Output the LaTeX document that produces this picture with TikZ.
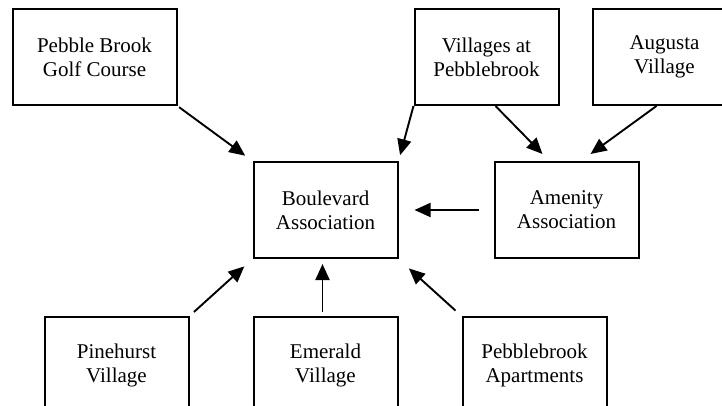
\documentclass[tikz,border=0pt]{standalone}
\usepackage{fontspec}
\setmainfont{Liberation Serif}
\usetikzlibrary{
  arrows.meta,
  positioning
}

\begin{document}
\begin{tikzpicture}[
  x=1pt, y=1pt,
  node distance=1em,
  org/.style={
    rectangle,
    draw,
    line width=2pt,
    align=center,
    minimum width=144pt,
    minimum height=96pt,
    font=\fontsize{21}{24}\selectfont
  },
  feed/.style={
    -{Triangle[length=16pt,width=14pt]},
    line width=1.9pt
  }
]
\useasboundingbox (0,0) rectangle (722,-406);

\node[org] (boulevard) at (325.5,-210) {Boulevard\\Association};
\node[org, right=95pt of boulevard] (amenity) {Amenity\\Association};
\node[org, above right=55pt and 15pt of boulevard] (villages) {Villages at\\Pebblebrook};
\node[org, right=32pt of villages] (augusta) {Augusta\\Village};
\node[org, minimum width=164pt, left=236pt of villages] (golf) {Pebble Brook\\Golf Course};
\node[org, below=57pt of boulevard] (emerald) {Emerald\\Village};
\node[org, left=63pt of emerald] (pinehurst) {Pinehurst\\Village};
\node[org, right=63pt of emerald] (apartments) {Pebblebrook\\Apartments};

% arrows into the two associations
\draw[feed, shorten <=2pt, shorten >=9pt] (golf.south east) -- (boulevard.north west);
\draw[feed, shorten >=6pt] (villages.south west) -- (boulevard.north east);
\draw[feed] ([xshift=9pt]villages.south) -- ([xshift=-24pt,yshift=7pt]amenity.north);
\draw[feed] ([xshift=-8pt]augusta.south) -- ([xshift=24pt,yshift=7pt]amenity.north);
\draw[feed, shorten <=15pt, shorten >=16pt] (amenity.west) -- (boulevard.east);
\draw[feed, shorten <=6pt, shorten >=11pt] (pinehurst.north east) -- (boulevard.south west);
\draw[feed] ([xshift=-3pt,yshift=4pt]emerald.north) -- ([xshift=-3pt,yshift=-5pt]boulevard.south);
\draw[feed, shorten <=8pt, shorten >=14pt] (apartments.north west) -- (boulevard.south east);
\end{tikzpicture}
\end{document}
